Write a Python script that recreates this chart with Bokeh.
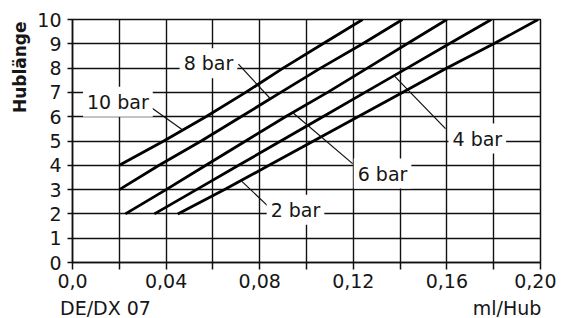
import numpy as np
from bokeh.plotting import figure
from bokeh.models import FixedTicker, Label, Range1d, Title, LinearAxis
from bokeh.embed import file_html
from bokeh.resources import INLINE

# ---------------- data ----------------
series_names = ["10 bar", "8 bar", "6 bar", "4 bar", "2 bar"]
x_10bar = [0.020, 0.039, 0.057, 0.074, 0.090, 0.107, 0.124]
y_10bar = [4, 5, 6, 7, 8, 9, 10]
x_8bar = [0.020, 0.037, 0.055, 0.072, 0.089, 0.106, 0.124, 0.141]
y_8bar = [3, 4, 5, 6, 7, 8, 9, 10]
x_6bar = [0.0226, 0.040, 0.057, 0.074, 0.091, 0.109, 0.126, 0.143, 0.160]
y_6bar = [2, 3, 4, 5, 6, 7, 8, 9, 10]
x_4bar = [0.035, 0.053, 0.071, 0.089, 0.107, 0.125, 0.143, 0.161, 0.179]
y_4bar = [2, 3, 4, 5, 6, 7, 8, 9, 10]
x_2bar = [0.045, 0.065, 0.084, 0.103, 0.122, 0.141, 0.160, 0.180, 0.199]
y_2bar = [2, 3, 4, 5, 6, 7, 8, 9, 10]

x_ticks = [0.0, 0.02, 0.04, 0.06, 0.08, 0.10, 0.12, 0.14, 0.16, 0.18, 0.20]
x_tick_labels = ["0,0", "", "0,04", "", "0,08", "", "0,12", "", "0,16", "", "0,20"]
y_ticks = [0, 1, 2, 3, 4, 5, 6, 7, 8, 9, 10]
y_tick_labels = ["0", "1", "2", "3", "4", "5", "6", "7", "8", "9", "10"]

y_title = "Hublänge"
x_title = "ml/Hub"
model_title = "DE/DX 07"

# ---------------- figure ----------------
FONT = "DejaVu Sans"
TXT = "#161616"

p = figure(frame_width=468, frame_height=243,
           x_range=Range1d(0, 0.2), y_range=Range1d(0, 10),
           output_backend="svg", toolbar_location=None,
           min_border_left=72, min_border_right=16,
           min_border_top=19, min_border_bottom=50)
p.background_fill_color = "white"
p.border_fill_color = "white"
p.outline_line_color = "#111111"
p.outline_line_width = 1.5

for ax in (p.xaxis, p.yaxis):
    ax.axis_line_color = "#111111"
    ax.axis_line_width = 1.5
    ax.major_tick_line_color = "#111111"
    ax.major_tick_line_width = 1.5
    ax.minor_tick_line_color = None
    ax.major_tick_in = 0
    ax.major_label_text_font = FONT
    ax.major_label_text_font_size = "19px"
    ax.major_label_text_color = TXT

p.xaxis.ticker = FixedTicker(ticks=x_ticks)
p.xaxis.major_label_overrides = {t: l for t, l in zip(x_ticks, x_tick_labels)}
p.xaxis.major_tick_out = 7
p.xaxis.major_label_standoff = 4

p.yaxis.ticker = FixedTicker(ticks=y_ticks)
p.yaxis.major_label_overrides = {t: l for t, l in zip(y_ticks, y_tick_labels)}
p.yaxis.major_tick_out = 5
p.yaxis.major_label_standoff = 6

p.xgrid.ticker = FixedTicker(ticks=x_ticks)
p.ygrid.ticker = FixedTicker(ticks=y_ticks)
for g in (p.xgrid, p.ygrid):
    g.grid_line_color = "#111111"
    g.grid_line_width = 1.4
    g.grid_line_alpha = 1.0

curves = {
    "10 bar": (x_10bar, y_10bar),
    "8 bar": (x_8bar, y_8bar),
    "6 bar": (x_6bar, y_6bar),
    "4 bar": (x_4bar, y_4bar),
    "2 bar": (x_2bar, y_2bar),
}
for name in series_names:
    xs, ys = curves[name]
    p.line(xs, ys, line_color="black", line_width=2.8)

# ---------------- labels with leaders ----------------
# (label centre x, label centre y, leader start (on box), y where leader meets curve)
label_specs = {
    "10 bar": (0.0194, 6.62, (0.0333, 6.40), 5.45),
    "8 bar": (0.0581, 8.2, (0.0709, 8.16), 6.74),
    "6 bar": (0.1325, 3.66, (0.1197, 4.07), 6.17),
    "4 bar": (0.1730, 5.10, (0.1594, 5.51), 7.69),
    "2 bar": (0.0953, 2.17, (0.0833, 2.34), 3.37),
}
for name in series_names:
    lx, ly, (sx, sy), cy = label_specs[name]
    xs, ys = curves[name]
    cx = float(np.interp(cy, ys, xs))
    p.line([sx, cx], [sy, cy], line_color="#111111", line_width=1.2)
    p.add_layout(Label(x=lx, y=ly, text=name, text_align="center",
                       text_baseline="middle", text_font=FONT,
                       text_font_size="19px", text_color=TXT,
                       background_fill_color="white", padding=4))

p.add_layout(Title(text=y_title, align="right", offset=2, standoff=10,
                   text_font=FONT, text_font_size="17px",
                   text_font_style="bold", text_color=TXT), "left")

# second row below the tick labels: model name (left) and unit (right)
bottom_text_pos = [0.0141, 0.1857]
ax2 = LinearAxis(ticker=FixedTicker(ticks=bottom_text_pos),
                 major_label_overrides={bottom_text_pos[0]: model_title,
                                        bottom_text_pos[1]: x_title})
ax2.axis_line_color = None
ax2.major_tick_line_color = None
ax2.minor_tick_line_color = None
ax2.major_tick_in = 0
ax2.major_tick_out = 0
ax2.major_label_standoff = 6
ax2.major_label_text_font = FONT
ax2.major_label_text_font_size = "19px"
ax2.major_label_text_color = TXT
p.add_layout(ax2, "below")

open("out.html", "w").write(file_html(p, INLINE))
